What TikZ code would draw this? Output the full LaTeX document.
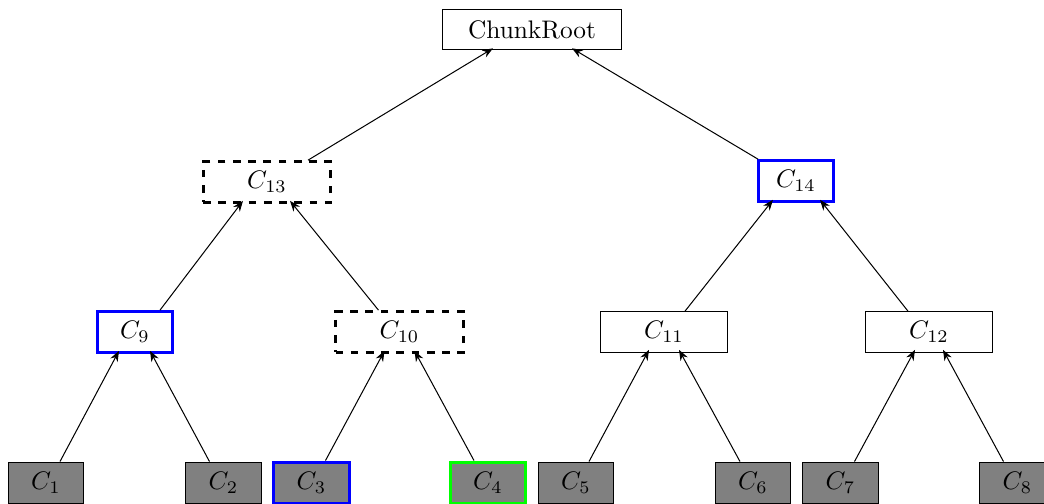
\documentclass[tikz,border=0pt]{standalone}
\usetikzlibrary{calc,arrows.meta}
\tikzset{
  box/.style={draw, rectangle, inner sep=0pt, minimum height=16pt, line width=0.4pt},
  narrow/.style={box, minimum width=29.6pt},
  wide/.style={box, minimum width=50.4pt},
  leaf/.style={narrow, fill=gray, minimum height=16.5pt},
  hl/.style={draw=blue, line width=1.2pt},
  hlgreen/.style={draw=green, line width=1.2pt},
  pending/.style={dashed, line width=1.2pt},
  link/.style={-{Stealth[length=4.2pt,width=3.2pt]}, line width=0.4pt},
}
\begin{document}
\begin{tikzpicture}[x=0.394pt, y=-0.394pt]
  \useasboundingbox (0,0) rectangle (1044,504);
  \clip (0,0) rectangle (1044,504);

  % root
  \node[box, minimum width=70.9pt] (root) at (532,29.5) {ChunkRoot};

  % second level
  \node[wide, pending] (c13) at (267,182) {$C_{13}$};
  \node[narrow, hl] (c14) at (796,181) {$C_{14}$};

  % third level
  \node[narrow, hl] (c9) at (135,332) {$C_{9}$};
  \node[wide, pending] (c10) at (399.5,332) {$C_{10}$};
  \node[wide] (c11) at (664,332) {$C_{11}$};
  \node[wide] (c12) at (929,332) {$C_{12}$};

  % leaf chunks
  \node[leaf] (c1) at (46,483) {$C_{1}$};
  \node[leaf] (c2) at (223.5,483) {$C_{2}$};
  \node[leaf, hl] (c3) at (311.5,483) {$C_{3}$};
  \node[leaf, hlgreen] (c4) at (488,483) {$C_{4}$};
  \node[leaf] (c5) at (576,483) {$C_{5}$};
  \node[leaf] (c6) at (753,483) {$C_{6}$};
  \node[leaf] (c7) at (840.5,483) {$C_{7}$};
  \node[leaf] (c8) at (1017.5,483) {$C_{8}$};

  % leaves to third level
  \draw[link] ($(c1.north)+(14,0)$) -- ($(c9.south)+(-16,-3)$);
  \draw[link] ($(c2.north)+(-14,0)$) -- ($(c9.south)+(15,-3)$);
  \draw[link] ($(c3.north)+(14,0)$) -- ($(c10.south)+(-15,-3)$);
  \draw[link] ($(c4.north)+(-14,0)$) -- ($(c10.south)+(15,-3)$);
  \draw[link] ($(c5.north)+(13,0)$) -- ($(c11.south)+(-15,-3)$);
  \draw[link] ($(c6.north)+(-13,0)$) -- ($(c11.south)+(15,-3)$);
  \draw[link] ($(c7.north)+(14,0)$) -- ($(c12.south)+(-14,-3)$);
  \draw[link] ($(c8.north)+(-14,0)$) -- ($(c12.south)+(14,-3)$);

  % third level to second level
  \draw[link] ($(c9.north)+(25,0)$) -- ($(c13.south)+(-24,-3)$);
  \draw[link] ($(c10.north)+(-21,0)$) -- ($(c13.south)+(23,-3)$);
  \draw[link] ($(c11.north)+(21,0)$) -- ($(c14.south)+(-23,-3)$);
  \draw[link] ($(c12.north)+(-21,0)$) -- ($(c14.south)+(24,-3)$);

  % second level to root
  \draw[link] ($(c13.north)+(41,0)$) -- ($(root.south)+(-39,-2)$);
  \draw[link] ($(c14.north)+(-38,0)$) -- ($(root.south)+(40,-2)$);
\end{tikzpicture}
\end{document}
